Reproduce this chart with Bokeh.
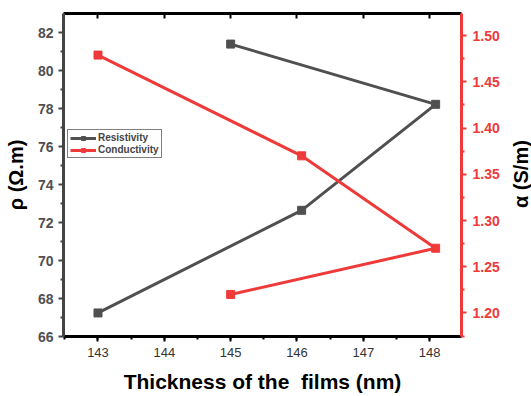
from bokeh.plotting import figure
from bokeh.layouts import row
from bokeh.models import Range1d, LinearAxis, FixedTicker, Legend, LegendItem, NumeralTickFormatter, Div
from bokeh.embed import file_html
from bokeh.resources import INLINE

thickness = [143.0, 146.07, 148.09, 145.0]
resistivity = [67.24, 72.64, 78.22, 81.39]
conductivity = [1.479, 1.370, 1.270, 1.220]

x_ticks = [143, 144, 145, 146, 147, 148]
left_ticks = [66, 68, 70, 72, 74, 76, 78, 80, 82]
right_ticks = [1.20, 1.25, 1.30, 1.35, 1.40, 1.45, 1.50]
right_title_text = "α (S/m)"

GRAY = "#505050"
RED = "#ef3a3a"
FONT = "Liberation Sans"

FW, FH = 398, 323
BT, BB = 13, 56

p = figure(frame_width=FW, frame_height=FH, output_backend="svg", toolbar_location=None,
           x_range=Range1d(142.48, 148.48), y_range=Range1d(66, 83),
           min_border_left=63, min_border_right=50, min_border_top=BT, min_border_bottom=BB,
           x_axis_location=None, y_axis_location=None)
p.extra_y_ranges = {"cond": Range1d(1.1745, 1.524)}
p.outline_line_color = None
p.grid.visible = False
p.background_fill_color = "white"

# bottom axis
xa = LinearAxis(ticker=FixedTicker(ticks=x_ticks, minor_ticks=[142.5 + 0.5 * i for i in range(13)]))
xa.axis_label = "Thickness of the\u00a0 films (nm)"
xa.axis_label_text_font = FONT
xa.axis_label_text_font_style = "bold"
xa.axis_label_text_font_size = "21px"
xa.axis_label_text_color = "black"
xa.axis_label_standoff = 10
xa.major_label_text_font = FONT
xa.major_label_text_font_size = "13px"
xa.major_label_text_color = "#333333"
xa.axis_line_width = 3
xa.axis_line_color = "black"
xa.major_tick_line_width = 2
xa.major_tick_out = 5
xa.major_tick_in = 0
xa.minor_tick_line_width = 2
xa.minor_tick_out = 3
xa.minor_tick_in = 0
xa.major_label_standoff = 6
p.add_layout(xa, "below")

# top axis (frame line)
ta = LinearAxis(ticker=FixedTicker(ticks=x_ticks, minor_ticks=[]))
ta.major_label_text_font_size = "0px"
ta.major_label_standoff = 0
ta.axis_line_width = 3
ta.axis_line_color = "black"
ta.major_tick_line_width = 2
ta.major_tick_in = 5
ta.major_tick_out = 0
p.add_layout(ta, "above")

# left axis
ya = LinearAxis(ticker=FixedTicker(ticks=left_ticks, minor_ticks=list(range(67, 83, 2))))
ya.axis_label = "ρ (Ω.m)"
ya.axis_label_text_font = FONT
ya.axis_label_text_font_style = "bold"
ya.axis_label_text_font_size = "20px"
ya.axis_label_text_color = "black"
ya.axis_label_standoff = 8
ya.major_label_text_font = FONT
ya.major_label_text_font_style = "bold"
ya.major_label_text_font_size = "14px"
ya.major_label_text_color = GRAY
ya.axis_line_width = 3
ya.axis_line_color = "#444444"
ya.major_tick_line_color = "#444444"
ya.minor_tick_line_color = "#444444"
ya.major_tick_line_width = 2
ya.major_tick_out = 5
ya.major_tick_in = 0
ya.minor_tick_line_width = 2
ya.minor_tick_out = 3
ya.minor_tick_in = 0
ya.major_label_standoff = 5
p.add_layout(ya, "left")

# right axis
ra = LinearAxis(y_range_name="cond",
                ticker=FixedTicker(ticks=right_ticks, minor_ticks=[1.175 + 0.05 * i for i in range(7)]))
ra.formatter = NumeralTickFormatter(format="0.00")
ra.major_label_text_font = FONT
ra.major_label_text_font_style = "bold"
ra.major_label_text_font_size = "14px"
ra.major_label_text_color = RED
ra.axis_line_width = 3
ra.axis_line_color = RED
ra.major_tick_line_color = RED
ra.minor_tick_line_color = RED
ra.major_tick_line_width = 2
ra.major_tick_out = 5
ra.major_tick_in = 0
ra.minor_tick_line_width = 2
ra.minor_tick_out = 3
ra.minor_tick_in = 0
ra.major_label_standoff = 6
ra.major_label_text_align = "left"
p.add_layout(ra, "right")

l1 = p.line(thickness, resistivity, line_color=GRAY, line_width=3)
s1 = p.scatter(thickness, resistivity, marker="square", size=8, fill_color=GRAY, line_color=GRAY)
l2 = p.line(thickness, conductivity, line_color=RED, line_width=3, y_range_name="cond")
s2 = p.scatter(thickness, conductivity, marker="square", size=8, fill_color=RED, line_color=RED,
               y_range_name="cond")

legend = Legend(items=[LegendItem(label="Resistivity", renderers=[l1, s1]),
                       LegendItem(label="Conductivity", renderers=[l2, s2])],
                location=(4, 178))
legend.label_text_font = FONT
legend.label_text_font_style = "bold"
legend.label_text_font_size = "10px"
legend.label_height = 10
legend.glyph_height = 10
legend.glyph_width = 26
legend.label_standoff = 2
legend.spacing = 1
legend.padding = 2
legend.margin = 0
legend.border_line_color = "black"
legend.border_line_width = 1
legend.background_fill_alpha = 1
p.add_layout(legend, "center")

# right-hand axis title reading bottom-to-top
title_html = (
    f'<div style="writing-mode: vertical-rl; transform: rotate(180deg); '
    f'height: {FH}px; width: 20px; margin-top: {BT}px; text-align: center; '
    f'font-family: \'{FONT}\'; font-weight: bold; font-size: 20px; line-height: 20px; '
    f'color: black; white-space: nowrap;">{right_title_text}</div>'
)
right_title = Div(text=title_html, width=20, height=BT + FH + BB, margin=(0, 0, 0, 0))

layout = row(p, right_title, spacing=0)

open("out.html", "w").write(file_html(layout, INLINE))
